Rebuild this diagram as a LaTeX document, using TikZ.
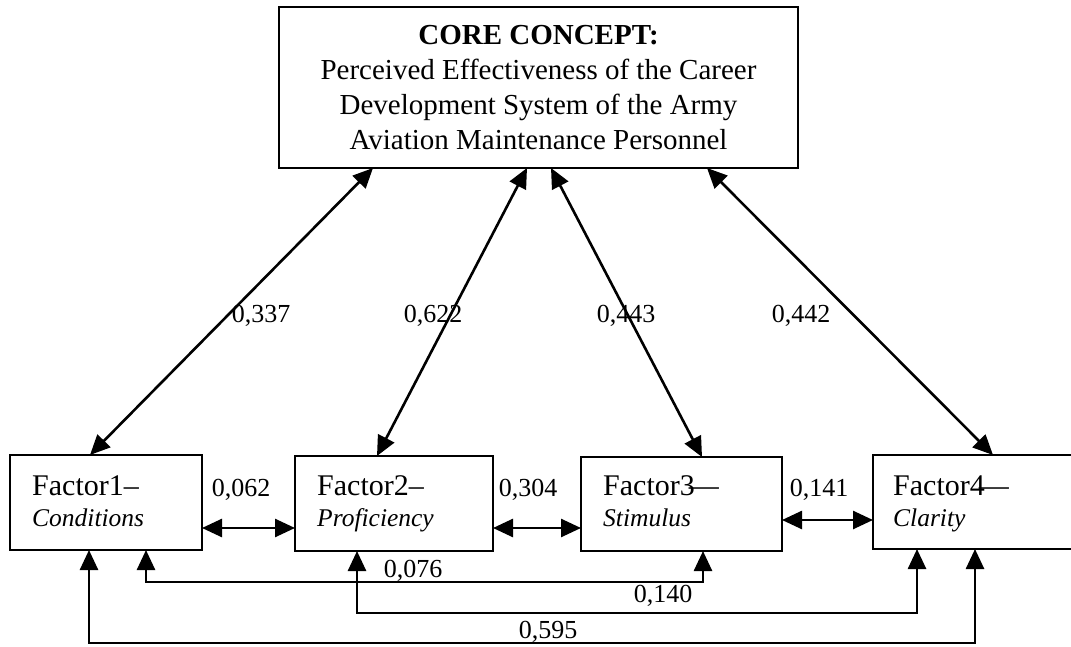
\documentclass[tikz,border=0pt]{standalone}
\usepackage{fontspec}
\setmainfont{Liberation Serif}
\usetikzlibrary{arrows.meta}
\begin{document}
\begin{tikzpicture}[x=1pt,y=-1pt,
  box/.style={draw,line width=2pt,inner sep=0pt,outer sep=0pt,anchor=north west},
  dbl/.style={line width=2.6pt,{Triangle[length=20pt,width=18pt]}-{Triangle[length=20pt,width=18pt]}},
  coef/.style={inner sep=0pt,anchor=base,font=\fontsize{26}{30}\selectfont},
  ftitle/.style={inner sep=0pt,anchor=base west,font=\fontsize{30}{34}\selectfont},
  fname/.style={inner sep=0pt,anchor=base west,font=\fontsize{25.5}{30}\selectfont\itshape}]
\clip (0,0) rectangle (1071,647);

% core concept
\node[box,minimum width=519pt,minimum height=161pt,align=center,
      font=\fontsize{29}{35}\selectfont] (core) at (279,7)
  {\textbf{CORE CONCEPT:}\\Perceived Effectiveness of the Career\\
   Development System of the Army\\Aviation Maintenance Personnel};

% factor boxes
\node[box,minimum width=192pt,minimum height=95pt] (f1) at (10,455) {};
\node[box,minimum width=198pt,minimum height=95pt] (f2) at (295,456) {};
\node[box,minimum width=201pt,minimum height=94pt] (f3) at (581,457) {};
\node[box,minimum width=220pt,minimum height=94pt] (f4) at (873,455) {};

\node[ftitle] (f1a) at (32,495) {Factor1–};
\node[fname]  (f1b) at (32,526) {Conditions};
\node[ftitle] (f2a) at (317,495) {Factor2–};
\node[fname]  (f2b) at (317,526) {Proficiency};
\node[ftitle] (f3a) at (603,495) {Factor3\kern-6pt—};
\node[fname]  (f3b) at (603,526) {Stimulus};
\node[ftitle] (f4a) at (893,495) {Factor4\kern-6pt—};
\node[fname]  (f4b) at (893,526) {Clarity};

% links to the core concept
\draw[dbl] ([xshift=80pt]f1.north west) -- ([xshift=94pt]core.south west);
\draw[dbl] ([xshift=82pt]f2.north west) -- ([xshift=248pt]core.south west);
\draw[dbl] ([xshift=121pt]f3.north west) -- ([xshift=272pt]core.south west);
\draw[dbl] ([xshift=120pt]f4.north west) -- ([xshift=428pt]core.south west);

% links between neighbouring factors
\draw[dbl] ([yshift=-25.5pt]f1.east) -- ([yshift=-25.5pt]f1.east -| f2.west);
\draw[dbl] ([yshift=-24.5pt]f2.east) -- ([yshift=-24.5pt]f2.east -| f3.west);
\draw[dbl] ([yshift=-16pt]f3.east) -- ([yshift=-16pt]f3.east -| f4.west);

% links below the factors
\draw[dbl] ([xshift=136pt]f1.south west) -- ++(0,32) -| ([xshift=122pt]f3.south west);
\draw[dbl] ([xshift=62pt]f2.south west) -- ++(0,62) -| ([xshift=44pt]f4.south west);
\draw[dbl] ([xshift=79pt]f1.south west) -- ++(0,93) -| ([xshift=102pt]f4.south west);

% coefficients
\node[coef] (c1) at (261,322) {0,337};
\node[coef] (c2) at (433,322) {0,622};
\node[coef] (c3) at (626,322) {0,443};
\node[coef] (c4) at (801,322) {0,442};
\node[coef] (c12) at (241,496) {0,062};
\node[coef] (c23) at (528,496) {0,304};
\node[coef] (c34) at (819,496) {0,141};
\node[coef] (c13) at (413,577) {0,076};
\node[coef] (c24) at (663,602) {0,140};
\node[coef] (c14) at (548,638) {0,595};
\end{tikzpicture}
\end{document}
